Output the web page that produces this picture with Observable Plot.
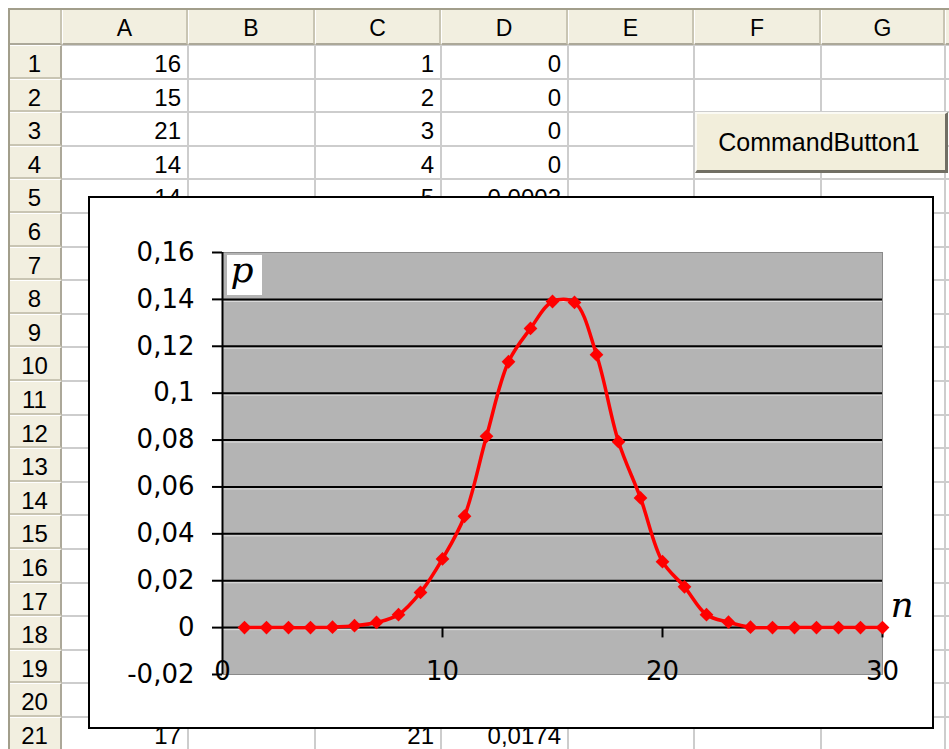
<!DOCTYPE html>
<html><head><meta charset="utf-8">
<script src="https://cdn.jsdelivr.net/npm/d3@7"></script>
<script src="https://cdn.jsdelivr.net/npm/@observablehq/plot@0.6"></script>
<style>
html,body{margin:0;padding:0;background:#fff;}
#sheet{position:relative;width:949px;height:749px;overflow:hidden;background:#fff;font-family:"Liberation Sans",Arial,sans-serif;color:#000;}
.abs{position:absolute;box-sizing:border-box;white-space:nowrap;}
</style></head><body><div id="sheet"></div>
<script>
// ---- spreadsheet content ----
const colLetters = ["A", "B", "C", "D", "E", "F", "G", ""];
const rowNumbers = [1,2,3,4,5,6,7,8,9,10,11,12,13,14,15,16,17,18,19,20,21];
const cellRows = [1, 2, 3, 4, 5, 21];
const colA = [16, 15, 21, 14, 14, 17];
const colC = [1, 2, 3, 4, 5, 21];
const colD = ["0", "0", "0", "0", "0,0002", "0,0174"];
const buttonLabel = "CommandButton1";

// ---- chart data ----
const nValues = [1,2,3,4,5,6,7,8,9,10,11,12,13,14,15,16,17,18,19,20,21,22,23,24,25,26,27,28,29,30];
const pValues = [0, 0, 0, 0, 0.0002, 0.0008, 0.0022, 0.0055, 0.015, 0.0293, 0.0475, 0.0816, 0.1134, 0.1276, 0.1391,
                 0.1387, 0.1164, 0.0793, 0.0553, 0.0281, 0.0174, 0.0055, 0.0023, 0.0002, 0, 0, 0, 0, 0, 0];
const xTicks = [0, 10, 20, 30];
const xTickMarks = [10, 20, 30];
const yTicks = [-0.02, 0, 0.02, 0.04, 0.06, 0.08, 0.1, 0.12, 0.14, 0.16];
const gridValues = [0, 0.02, 0.04, 0.06, 0.08, 0.1, 0.12, 0.14];
const xAxisLabel = "n";
const yAxisLabel = "p";

// ---- spreadsheet layout ----
const sheet = document.getElementById("sheet");
function box(x, y, w, h, css, text) {
  const d = document.createElement("div");
  d.className = "abs";
  Object.assign(d.style, {left: x + "px", top: y + "px", width: w + "px", height: h + "px"}, css || {});
  if (text !== undefined) d.textContent = text;
  sheet.appendChild(d);
  return d;
}
const colEdges = [62, 188, 315, 441, 568, 694, 821, 945, 1072];
const headTop = 10, headBottom = 45, rowH = 33.6;
const rowTop = i => headBottom + (i - 1) * rowH;
const headBg = "#f2efe0", headLine = "#c9c5b3", headDark = "#aca899", gridCol = "#cdcdcd";

// gridlines
for (let k = 1; k < colEdges.length; k++) box(colEdges[k] - 1, headBottom, 2, 749 - headBottom, {background: gridCol});
for (let i = 1; i <= 22; i++) box(colEdges[0], rowTop(i) - 1, 949 - colEdges[0], 2, {background: gridCol});

// header row
box(9, headTop, 949 - 9, headBottom - headTop, {background: headBg});
for (let k = 0; k < colLetters.length; k++) {
  const x0 = colEdges[k], x1 = colEdges[k + 1];
  box(x0, headTop, x1 - x0, headBottom - headTop,
      {borderLeft: "1px solid #ffffff", borderRight: "2px solid " + headLine, borderBottom: "2px solid " + headDark,
       fontSize: "23px", lineHeight: (headBottom - headTop) + "px", textAlign: "center", paddingTop: "1px"}, colLetters[k]);
}
// corner
box(9, headTop, colEdges[0] - 9, headBottom - headTop,
    {borderRight: "2px solid " + headLine, borderBottom: "2px solid " + headDark, background: headBg});
// row headers
for (const r of rowNumbers) {
  box(9, rowTop(r), colEdges[0] - 9, rowH,
      {background: headBg, borderTop: "1px solid #ffffff", borderBottom: "2px solid " + headLine, borderRight: "2px solid " + headDark,
       fontSize: "24px", lineHeight: rowH + "px", textAlign: "center", paddingTop: "1px"}, String(r));
}
// outer frame lines
box(8, 8, 941, 2, {background: "#a29e8b"});
box(8, 8, 2, 741, {background: "#a29e8b"});

// cell values
function cell(colIdx, row, text) {
  const x0 = colEdges[colIdx], x1 = colEdges[colIdx + 1];
  box(x0, rowTop(row), x1 - x0, rowH,
      {fontSize: "24px", lineHeight: rowH + "px", textAlign: "right", paddingRight: "7px", paddingTop: "2px"}, text);
}
cellRows.forEach((r, i) => {
  cell(0, r, String(colA[i]));
  cell(2, r, String(colC[i]));
  cell(3, r, colD[i]);
});

// command button
box(695, 112, 253, 61,
    {background: "#f2eedb", borderTop: "2px solid #fbfaf4", borderLeft: "2px solid #fbfaf4",
     borderRight: "3px solid #716f64", borderBottom: "3px solid #716f64",
     fontSize: "25px", lineHeight: "56px", textAlign: "center", paddingRight: "4px"}, buttonLabel);

// chart box
box(88, 196, 846, 533, {border: "2px solid #000", background: "#fff"});

// ---- chart ----
const data = nValues.map((n, i) => ({n, p: pValues[i]}));
const fmtComma = d => {
  let s = Math.abs(d).toFixed(2).replace(/0+$/, "").replace(/\.$/, "");
  return (d < 0 ? "-" : "") + s.replace(".", ",");
};
const svgNS = "http://www.w3.org/2000/svg";

const chart = Plot.plot({
  width: 949, height: 749,
  marginLeft: 222, marginRight: 67, marginTop: 252, marginBottom: 75,
  x: {domain: [0, 30], axis: null},
  y: {domain: [-0.02, 0.16], label: null},
  marks: [
    Plot.frame({fill: "#b4b4b4", stroke: "#8a8a8a", strokeWidth: 1}),
    Plot.ruleY(gridValues, {stroke: "#dedede", strokeWidth: 1, dy: 2}),
    Plot.ruleY(gridValues, {stroke: "#000", strokeWidth: 2}),
    Plot.axisY({ticks: yTicks, tickSize: 10, tickPadding: 18, tickFormat: fmtComma,
                fontSize: 26, fontFamily: "DejaVu Sans", strokeWidth: 2, label: null}),
    Plot.ruleX([0], {stroke: "#000", strokeWidth: 2}),
    Plot.ruleX(xTickMarks, {y1: 0, y2: -0.0044, stroke: "#000", strokeWidth: 2}),
    Plot.text(xTicks, {x: d => d, y: () => -0.02, text: d => String(d), fontSize: 26,
                       fontFamily: "DejaVu Sans", fill: "#000", lineAnchor: "middle", dy: -3}),
    (index, scales, values, dims) => {
      const r = document.createElementNS(svgNS, "rect");
      r.setAttribute("x", dims.marginLeft + 5);
      r.setAttribute("y", dims.marginTop + 3);
      r.setAttribute("width", 35);
      r.setAttribute("height", 40);
      r.setAttribute("fill", "#fff");
      return r;
    },
    Plot.text([yAxisLabel], {frameAnchor: "top-left", text: d => d, textAnchor: "start", lineAnchor: "top",
                             dx: 8, dy: 4, fontSize: 36, fontFamily: "DejaVu Serif", fontStyle: "italic", fill: "#000"}),
    Plot.text([xAxisLabel], {x: () => 30, y: () => 0, text: d => d, textAnchor: "start", lineAnchor: "middle",
                             dx: 8, dy: -22, fontSize: 36, fontFamily: "DejaVu Serif", fontStyle: "italic", fill: "#000"}),
    Plot.line(data, {x: "n", y: "p", stroke: "#ff0000", strokeWidth: 3.5, curve: "catmull-rom"}),
    Plot.dot(data, {x: "n", y: "p", symbol: d3.symbolDiamond2, r: 6.2, fill: "#ff0000", stroke: "none"})
  ]
});
Object.assign(chart.style, {position: "absolute", left: "0px", top: "0px", background: "transparent", overflow: "visible", maxWidth: "none"});
sheet.appendChild(chart);
</script>
</body></html>
